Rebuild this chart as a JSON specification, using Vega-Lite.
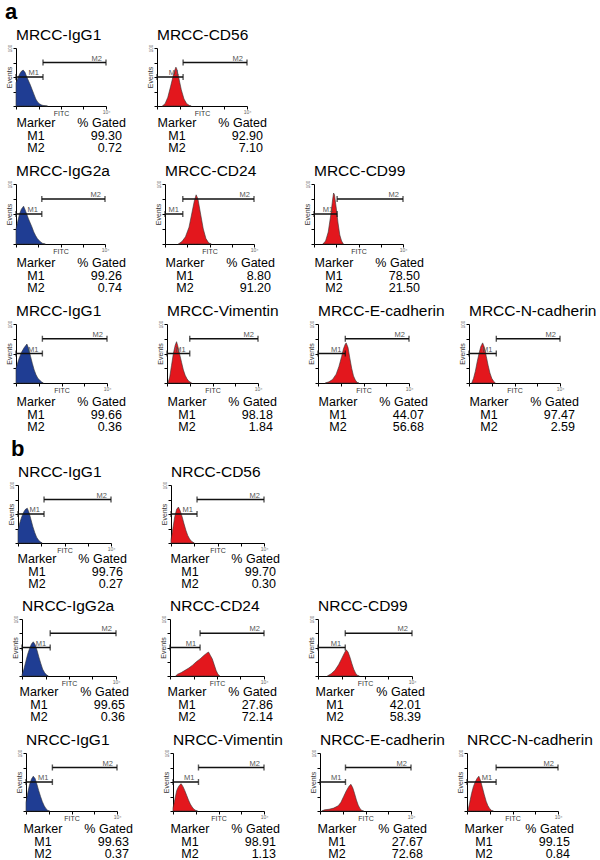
{
"$schema": "https://vega.github.io/schema/vega-lite/v6.json",
"padding": {"left": 5, "top": 0, "right": 0, "bottom": 0},
"background": "white",
"spacing": 0,
"data": {"values": [
{"k":"h","r":1,"p":"MRCC-IgG1","c":"isotype","fitc":1,"events":40},{"k":"h","r":1,"p":"MRCC-IgG1","c":"isotype","fitc":1.202,"events":48},{"k":"h","r":1,"p":"MRCC-IgG1","c":"isotype","fitc":1.445,"events":55},{"k":"h","r":1,"p":"MRCC-IgG1","c":"isotype","fitc":1.738,"events":60},{"k":"h","r":1,"p":"MRCC-IgG1","c":"isotype","fitc":2.089,"events":62},{"k":"h","r":1,"p":"MRCC-IgG1","c":"isotype","fitc":2.512,"events":58},{"k":"h","r":1,"p":"MRCC-IgG1","c":"isotype","fitc":3.02,"events":50},{"k":"h","r":1,"p":"MRCC-IgG1","c":"isotype","fitc":3.631,"events":43},{"k":"h","r":1,"p":"MRCC-IgG1","c":"isotype","fitc":4.365,"events":36},{"k":"h","r":1,"p":"MRCC-IgG1","c":"isotype","fitc":5.248,"events":28},{"k":"h","r":1,"p":"MRCC-IgG1","c":"isotype","fitc":6.31,"events":20},{"k":"h","r":1,"p":"MRCC-IgG1","c":"isotype","fitc":7.586,"events":12},{"k":"h","r":1,"p":"MRCC-IgG1","c":"isotype","fitc":9.12,"events":7},{"k":"h","r":1,"p":"MRCC-IgG1","c":"isotype","fitc":10.96,"events":4},{"k":"h","r":1,"p":"MRCC-IgG1","c":"isotype","fitc":13.18,"events":2},{"k":"h","r":1,"p":"MRCC-IgG1","c":"isotype","fitc":15.85,"events":1},{"k":"h","r":1,"p":"MRCC-IgG1","c":"isotype","fitc":25.12,"events":0},
{"k":"h","r":1,"p":"MRCC-CD56","c":"antibody","fitc":1.738,"events":0},{"k":"h","r":1,"p":"MRCC-CD56","c":"antibody","fitc":2.291,"events":4},{"k":"h","r":1,"p":"MRCC-CD56","c":"antibody","fitc":3.02,"events":15},{"k":"h","r":1,"p":"MRCC-CD56","c":"antibody","fitc":3.981,"events":33},{"k":"h","r":1,"p":"MRCC-CD56","c":"antibody","fitc":5.248,"events":52},{"k":"h","r":1,"p":"MRCC-CD56","c":"antibody","fitc":6.31,"events":63},{"k":"h","r":1,"p":"MRCC-CD56","c":"antibody","fitc":6.918,"events":67},{"k":"h","r":1,"p":"MRCC-CD56","c":"antibody","fitc":7.586,"events":64},{"k":"h","r":1,"p":"MRCC-CD56","c":"antibody","fitc":9.12,"events":50},{"k":"h","r":1,"p":"MRCC-CD56","c":"antibody","fitc":12.02,"events":28},{"k":"h","r":1,"p":"MRCC-CD56","c":"antibody","fitc":15.85,"events":12},{"k":"h","r":1,"p":"MRCC-CD56","c":"antibody","fitc":20.89,"events":4},{"k":"h","r":1,"p":"MRCC-CD56","c":"antibody","fitc":27.54,"events":1},{"k":"h","r":1,"p":"MRCC-CD56","c":"antibody","fitc":33.11,"events":0},
{"k":"h","r":2,"p":"MRCC-IgG2a","c":"isotype","fitc":1,"events":25},{"k":"h","r":2,"p":"MRCC-IgG2a","c":"isotype","fitc":1.202,"events":38},{"k":"h","r":2,"p":"MRCC-IgG2a","c":"isotype","fitc":1.445,"events":50},{"k":"h","r":2,"p":"MRCC-IgG2a","c":"isotype","fitc":1.738,"events":58},{"k":"h","r":2,"p":"MRCC-IgG2a","c":"isotype","fitc":2.188,"events":63},{"k":"h","r":2,"p":"MRCC-IgG2a","c":"isotype","fitc":2.512,"events":58},{"k":"h","r":2,"p":"MRCC-IgG2a","c":"isotype","fitc":3.02,"events":50},{"k":"h","r":2,"p":"MRCC-IgG2a","c":"isotype","fitc":3.631,"events":42},{"k":"h","r":2,"p":"MRCC-IgG2a","c":"isotype","fitc":4.365,"events":35},{"k":"h","r":2,"p":"MRCC-IgG2a","c":"isotype","fitc":5.248,"events":28},{"k":"h","r":2,"p":"MRCC-IgG2a","c":"isotype","fitc":6.31,"events":20},{"k":"h","r":2,"p":"MRCC-IgG2a","c":"isotype","fitc":7.586,"events":14},{"k":"h","r":2,"p":"MRCC-IgG2a","c":"isotype","fitc":9.12,"events":9},{"k":"h","r":2,"p":"MRCC-IgG2a","c":"isotype","fitc":10.96,"events":6},{"k":"h","r":2,"p":"MRCC-IgG2a","c":"isotype","fitc":13.18,"events":3},{"k":"h","r":2,"p":"MRCC-IgG2a","c":"isotype","fitc":15.85,"events":1},{"k":"h","r":2,"p":"MRCC-IgG2a","c":"isotype","fitc":20.89,"events":0},
{"k":"h","r":2,"p":"MRCC-CD24","c":"antibody","fitc":3.981,"events":0},{"k":"h","r":2,"p":"MRCC-CD24","c":"antibody","fitc":5.754,"events":4},{"k":"h","r":2,"p":"MRCC-CD24","c":"antibody","fitc":8.318,"events":12},{"k":"h","r":2,"p":"MRCC-CD24","c":"antibody","fitc":12.02,"events":28},{"k":"h","r":2,"p":"MRCC-CD24","c":"antibody","fitc":15.85,"events":50},{"k":"h","r":2,"p":"MRCC-CD24","c":"antibody","fitc":20.89,"events":72},{"k":"h","r":2,"p":"MRCC-CD24","c":"antibody","fitc":25.12,"events":82},{"k":"h","r":2,"p":"MRCC-CD24","c":"antibody","fitc":30.2,"events":75},{"k":"h","r":2,"p":"MRCC-CD24","c":"antibody","fitc":39.81,"events":50},{"k":"h","r":2,"p":"MRCC-CD24","c":"antibody","fitc":52.48,"events":25},{"k":"h","r":2,"p":"MRCC-CD24","c":"antibody","fitc":69.18,"events":9},{"k":"h","r":2,"p":"MRCC-CD24","c":"antibody","fitc":91.2,"events":2},{"k":"h","r":2,"p":"MRCC-CD24","c":"antibody","fitc":120.2,"events":0},
{"k":"h","r":2,"p":"MRCC-CD99","c":"antibody","fitc":2.512,"events":0},{"k":"h","r":2,"p":"MRCC-CD99","c":"antibody","fitc":3.311,"events":5},{"k":"h","r":2,"p":"MRCC-CD99","c":"antibody","fitc":4.365,"events":20},{"k":"h","r":2,"p":"MRCC-CD99","c":"antibody","fitc":5.754,"events":50},{"k":"h","r":2,"p":"MRCC-CD99","c":"antibody","fitc":6.918,"events":75},{"k":"h","r":2,"p":"MRCC-CD99","c":"antibody","fitc":7.586,"events":85},{"k":"h","r":2,"p":"MRCC-CD99","c":"antibody","fitc":8.318,"events":82},{"k":"h","r":2,"p":"MRCC-CD99","c":"antibody","fitc":10,"events":60},{"k":"h","r":2,"p":"MRCC-CD99","c":"antibody","fitc":12.02,"events":35},{"k":"h","r":2,"p":"MRCC-CD99","c":"antibody","fitc":14.45,"events":15},{"k":"h","r":2,"p":"MRCC-CD99","c":"antibody","fitc":17.38,"events":5},{"k":"h","r":2,"p":"MRCC-CD99","c":"antibody","fitc":20.89,"events":0},
{"k":"h","r":3,"p":"MRCC-IgG1","c":"isotype","fitc":1,"events":25},{"k":"h","r":3,"p":"MRCC-IgG1","c":"isotype","fitc":1.318,"events":40},{"k":"h","r":3,"p":"MRCC-IgG1","c":"isotype","fitc":1.738,"events":52},{"k":"h","r":3,"p":"MRCC-IgG1","c":"isotype","fitc":2.291,"events":60},{"k":"h","r":3,"p":"MRCC-IgG1","c":"isotype","fitc":3.02,"events":66},{"k":"h","r":3,"p":"MRCC-IgG1","c":"isotype","fitc":3.631,"events":58},{"k":"h","r":3,"p":"MRCC-IgG1","c":"isotype","fitc":4.365,"events":45},{"k":"h","r":3,"p":"MRCC-IgG1","c":"isotype","fitc":5.248,"events":33},{"k":"h","r":3,"p":"MRCC-IgG1","c":"isotype","fitc":6.31,"events":22},{"k":"h","r":3,"p":"MRCC-IgG1","c":"isotype","fitc":7.586,"events":14},{"k":"h","r":3,"p":"MRCC-IgG1","c":"isotype","fitc":9.12,"events":8},{"k":"h","r":3,"p":"MRCC-IgG1","c":"isotype","fitc":10.96,"events":5},{"k":"h","r":3,"p":"MRCC-IgG1","c":"isotype","fitc":13.18,"events":2},{"k":"h","r":3,"p":"MRCC-IgG1","c":"isotype","fitc":15.85,"events":0},
{"k":"h","r":3,"p":"MRCC-Vimentin","c":"antibody","fitc":1.096,"events":0},{"k":"h","r":3,"p":"MRCC-Vimentin","c":"antibody","fitc":1.318,"events":10},{"k":"h","r":3,"p":"MRCC-Vimentin","c":"antibody","fitc":1.585,"events":30},{"k":"h","r":3,"p":"MRCC-Vimentin","c":"antibody","fitc":1.905,"events":50},{"k":"h","r":3,"p":"MRCC-Vimentin","c":"antibody","fitc":2.291,"events":64},{"k":"h","r":3,"p":"MRCC-Vimentin","c":"antibody","fitc":2.63,"events":70},{"k":"h","r":3,"p":"MRCC-Vimentin","c":"antibody","fitc":3.02,"events":62},{"k":"h","r":3,"p":"MRCC-Vimentin","c":"antibody","fitc":3.631,"events":48},{"k":"h","r":3,"p":"MRCC-Vimentin","c":"antibody","fitc":4.365,"events":35},{"k":"h","r":3,"p":"MRCC-Vimentin","c":"antibody","fitc":5.248,"events":22},{"k":"h","r":3,"p":"MRCC-Vimentin","c":"antibody","fitc":6.31,"events":13},{"k":"h","r":3,"p":"MRCC-Vimentin","c":"antibody","fitc":7.586,"events":7},{"k":"h","r":3,"p":"MRCC-Vimentin","c":"antibody","fitc":9.12,"events":3},{"k":"h","r":3,"p":"MRCC-Vimentin","c":"antibody","fitc":12.02,"events":0},
{"k":"h","r":3,"p":"MRCC-E-cadherin","c":"antibody","fitc":2.089,"events":0},{"k":"h","r":3,"p":"MRCC-E-cadherin","c":"antibody","fitc":3.02,"events":2},{"k":"h","r":3,"p":"MRCC-E-cadherin","c":"antibody","fitc":4.365,"events":6},{"k":"h","r":3,"p":"MRCC-E-cadherin","c":"antibody","fitc":6.31,"events":15},{"k":"h","r":3,"p":"MRCC-E-cadherin","c":"antibody","fitc":8.318,"events":28},{"k":"h","r":3,"p":"MRCC-E-cadherin","c":"antibody","fitc":10.96,"events":45},{"k":"h","r":3,"p":"MRCC-E-cadherin","c":"antibody","fitc":13.18,"events":58},{"k":"h","r":3,"p":"MRCC-E-cadherin","c":"antibody","fitc":15.85,"events":66},{"k":"h","r":3,"p":"MRCC-E-cadherin","c":"antibody","fitc":17.38,"events":68},{"k":"h","r":3,"p":"MRCC-E-cadherin","c":"antibody","fitc":20.89,"events":60},{"k":"h","r":3,"p":"MRCC-E-cadherin","c":"antibody","fitc":25.12,"events":42},{"k":"h","r":3,"p":"MRCC-E-cadherin","c":"antibody","fitc":30.2,"events":25},{"k":"h","r":3,"p":"MRCC-E-cadherin","c":"antibody","fitc":36.31,"events":12},{"k":"h","r":3,"p":"MRCC-E-cadherin","c":"antibody","fitc":43.65,"events":5},{"k":"h","r":3,"p":"MRCC-E-cadherin","c":"antibody","fitc":52.48,"events":1},{"k":"h","r":3,"p":"MRCC-E-cadherin","c":"antibody","fitc":63.1,"events":0},
{"k":"h","r":3,"p":"MRCC-N-cadherin","c":"antibody","fitc":1.318,"events":0},{"k":"h","r":3,"p":"MRCC-N-cadherin","c":"antibody","fitc":1.585,"events":8},{"k":"h","r":3,"p":"MRCC-N-cadherin","c":"antibody","fitc":1.905,"events":20},{"k":"h","r":3,"p":"MRCC-N-cadherin","c":"antibody","fitc":2.291,"events":36},{"k":"h","r":3,"p":"MRCC-N-cadherin","c":"antibody","fitc":2.754,"events":50},{"k":"h","r":3,"p":"MRCC-N-cadherin","c":"antibody","fitc":3.311,"events":62},{"k":"h","r":3,"p":"MRCC-N-cadherin","c":"antibody","fitc":3.981,"events":68},{"k":"h","r":3,"p":"MRCC-N-cadherin","c":"antibody","fitc":4.786,"events":60},{"k":"h","r":3,"p":"MRCC-N-cadherin","c":"antibody","fitc":5.754,"events":45},{"k":"h","r":3,"p":"MRCC-N-cadherin","c":"antibody","fitc":6.918,"events":30},{"k":"h","r":3,"p":"MRCC-N-cadherin","c":"antibody","fitc":8.318,"events":17},{"k":"h","r":3,"p":"MRCC-N-cadherin","c":"antibody","fitc":10,"events":8},{"k":"h","r":3,"p":"MRCC-N-cadherin","c":"antibody","fitc":12.02,"events":3},{"k":"h","r":3,"p":"MRCC-N-cadherin","c":"antibody","fitc":14.45,"events":0},
{"k":"h","r":4,"p":"NRCC-IgG1","c":"isotype","fitc":1,"events":22},{"k":"h","r":4,"p":"NRCC-IgG1","c":"isotype","fitc":1.202,"events":35},{"k":"h","r":4,"p":"NRCC-IgG1","c":"isotype","fitc":1.445,"events":45},{"k":"h","r":4,"p":"NRCC-IgG1","c":"isotype","fitc":1.738,"events":53},{"k":"h","r":4,"p":"NRCC-IgG1","c":"isotype","fitc":2.089,"events":58},{"k":"h","r":4,"p":"NRCC-IgG1","c":"isotype","fitc":2.512,"events":60},{"k":"h","r":4,"p":"NRCC-IgG1","c":"isotype","fitc":3.02,"events":52},{"k":"h","r":4,"p":"NRCC-IgG1","c":"isotype","fitc":3.631,"events":40},{"k":"h","r":4,"p":"NRCC-IgG1","c":"isotype","fitc":4.365,"events":28},{"k":"h","r":4,"p":"NRCC-IgG1","c":"isotype","fitc":5.248,"events":18},{"k":"h","r":4,"p":"NRCC-IgG1","c":"isotype","fitc":6.31,"events":10},{"k":"h","r":4,"p":"NRCC-IgG1","c":"isotype","fitc":7.586,"events":5},{"k":"h","r":4,"p":"NRCC-IgG1","c":"isotype","fitc":9.12,"events":2},{"k":"h","r":4,"p":"NRCC-IgG1","c":"isotype","fitc":10.96,"events":0},
{"k":"h","r":4,"p":"NRCC-CD56","c":"antibody","fitc":1,"events":5},{"k":"h","r":4,"p":"NRCC-CD56","c":"antibody","fitc":1.202,"events":25},{"k":"h","r":4,"p":"NRCC-CD56","c":"antibody","fitc":1.445,"events":45},{"k":"h","r":4,"p":"NRCC-CD56","c":"antibody","fitc":1.738,"events":58},{"k":"h","r":4,"p":"NRCC-CD56","c":"antibody","fitc":2.089,"events":62},{"k":"h","r":4,"p":"NRCC-CD56","c":"antibody","fitc":2.512,"events":55},{"k":"h","r":4,"p":"NRCC-CD56","c":"antibody","fitc":3.02,"events":45},{"k":"h","r":4,"p":"NRCC-CD56","c":"antibody","fitc":3.631,"events":33},{"k":"h","r":4,"p":"NRCC-CD56","c":"antibody","fitc":4.365,"events":22},{"k":"h","r":4,"p":"NRCC-CD56","c":"antibody","fitc":5.248,"events":13},{"k":"h","r":4,"p":"NRCC-CD56","c":"antibody","fitc":6.31,"events":7},{"k":"h","r":4,"p":"NRCC-CD56","c":"antibody","fitc":7.586,"events":3},{"k":"h","r":4,"p":"NRCC-CD56","c":"antibody","fitc":10,"events":0},
{"k":"h","r":5,"p":"NRCC-IgG2a","c":"isotype","fitc":1,"events":2},{"k":"h","r":5,"p":"NRCC-IgG2a","c":"isotype","fitc":1.202,"events":12},{"k":"h","r":5,"p":"NRCC-IgG2a","c":"isotype","fitc":1.445,"events":25},{"k":"h","r":5,"p":"NRCC-IgG2a","c":"isotype","fitc":1.738,"events":38},{"k":"h","r":5,"p":"NRCC-IgG2a","c":"isotype","fitc":2.089,"events":48},{"k":"h","r":5,"p":"NRCC-IgG2a","c":"isotype","fitc":2.512,"events":56},{"k":"h","r":5,"p":"NRCC-IgG2a","c":"isotype","fitc":3.02,"events":60},{"k":"h","r":5,"p":"NRCC-IgG2a","c":"isotype","fitc":3.631,"events":55},{"k":"h","r":5,"p":"NRCC-IgG2a","c":"isotype","fitc":4.365,"events":45},{"k":"h","r":5,"p":"NRCC-IgG2a","c":"isotype","fitc":5.248,"events":33},{"k":"h","r":5,"p":"NRCC-IgG2a","c":"isotype","fitc":6.31,"events":22},{"k":"h","r":5,"p":"NRCC-IgG2a","c":"isotype","fitc":7.586,"events":12},{"k":"h","r":5,"p":"NRCC-IgG2a","c":"isotype","fitc":9.12,"events":6},{"k":"h","r":5,"p":"NRCC-IgG2a","c":"isotype","fitc":10.96,"events":2},{"k":"h","r":5,"p":"NRCC-IgG2a","c":"isotype","fitc":13.18,"events":0},
{"k":"h","r":5,"p":"NRCC-CD24","c":"antibody","fitc":1.738,"events":0},{"k":"h","r":5,"p":"NRCC-CD24","c":"antibody","fitc":2.089,"events":3},{"k":"h","r":5,"p":"NRCC-CD24","c":"antibody","fitc":3.02,"events":6},{"k":"h","r":5,"p":"NRCC-CD24","c":"antibody","fitc":4.365,"events":10},{"k":"h","r":5,"p":"NRCC-CD24","c":"antibody","fitc":6.31,"events":14},{"k":"h","r":5,"p":"NRCC-CD24","c":"antibody","fitc":9.12,"events":19},{"k":"h","r":5,"p":"NRCC-CD24","c":"antibody","fitc":13.18,"events":25},{"k":"h","r":5,"p":"NRCC-CD24","c":"antibody","fitc":19.05,"events":30},{"k":"h","r":5,"p":"NRCC-CD24","c":"antibody","fitc":27.54,"events":36},{"k":"h","r":5,"p":"NRCC-CD24","c":"antibody","fitc":36.31,"events":40},{"k":"h","r":5,"p":"NRCC-CD24","c":"antibody","fitc":43.65,"events":42},{"k":"h","r":5,"p":"NRCC-CD24","c":"antibody","fitc":52.48,"events":36},{"k":"h","r":5,"p":"NRCC-CD24","c":"antibody","fitc":63.1,"events":30},{"k":"h","r":5,"p":"NRCC-CD24","c":"antibody","fitc":75.86,"events":20},{"k":"h","r":5,"p":"NRCC-CD24","c":"antibody","fitc":91.2,"events":10},{"k":"h","r":5,"p":"NRCC-CD24","c":"antibody","fitc":109.6,"events":3},{"k":"h","r":5,"p":"NRCC-CD24","c":"antibody","fitc":131.8,"events":0},
{"k":"h","r":5,"p":"NRCC-CD99","c":"antibody","fitc":2.512,"events":0},{"k":"h","r":5,"p":"NRCC-CD99","c":"antibody","fitc":3.631,"events":4},{"k":"h","r":5,"p":"NRCC-CD99","c":"antibody","fitc":5.248,"events":10},{"k":"h","r":5,"p":"NRCC-CD99","c":"antibody","fitc":7.586,"events":20},{"k":"h","r":5,"p":"NRCC-CD99","c":"antibody","fitc":10,"events":30},{"k":"h","r":5,"p":"NRCC-CD99","c":"antibody","fitc":13.18,"events":40},{"k":"h","r":5,"p":"NRCC-CD99","c":"antibody","fitc":15.85,"events":46},{"k":"h","r":5,"p":"NRCC-CD99","c":"antibody","fitc":19.05,"events":42},{"k":"h","r":5,"p":"NRCC-CD99","c":"antibody","fitc":22.91,"events":33},{"k":"h","r":5,"p":"NRCC-CD99","c":"antibody","fitc":27.54,"events":22},{"k":"h","r":5,"p":"NRCC-CD99","c":"antibody","fitc":33.11,"events":12},{"k":"h","r":5,"p":"NRCC-CD99","c":"antibody","fitc":39.81,"events":5},{"k":"h","r":5,"p":"NRCC-CD99","c":"antibody","fitc":47.86,"events":1},{"k":"h","r":5,"p":"NRCC-CD99","c":"antibody","fitc":57.54,"events":0},
{"k":"h","r":6,"p":"NRCC-IgG1","c":"isotype","fitc":1,"events":15},{"k":"h","r":6,"p":"NRCC-IgG1","c":"isotype","fitc":1.202,"events":32},{"k":"h","r":6,"p":"NRCC-IgG1","c":"isotype","fitc":1.445,"events":46},{"k":"h","r":6,"p":"NRCC-IgG1","c":"isotype","fitc":1.738,"events":55},{"k":"h","r":6,"p":"NRCC-IgG1","c":"isotype","fitc":2.089,"events":60},{"k":"h","r":6,"p":"NRCC-IgG1","c":"isotype","fitc":2.512,"events":56},{"k":"h","r":6,"p":"NRCC-IgG1","c":"isotype","fitc":3.02,"events":46},{"k":"h","r":6,"p":"NRCC-IgG1","c":"isotype","fitc":3.631,"events":35},{"k":"h","r":6,"p":"NRCC-IgG1","c":"isotype","fitc":4.365,"events":25},{"k":"h","r":6,"p":"NRCC-IgG1","c":"isotype","fitc":5.248,"events":16},{"k":"h","r":6,"p":"NRCC-IgG1","c":"isotype","fitc":6.31,"events":9},{"k":"h","r":6,"p":"NRCC-IgG1","c":"isotype","fitc":7.586,"events":4},{"k":"h","r":6,"p":"NRCC-IgG1","c":"isotype","fitc":9.12,"events":1},{"k":"h","r":6,"p":"NRCC-IgG1","c":"isotype","fitc":10.96,"events":0},
{"k":"h","r":6,"p":"NRCC-Vimentin","c":"antibody","fitc":1,"events":5},{"k":"h","r":6,"p":"NRCC-Vimentin","c":"antibody","fitc":1.202,"events":20},{"k":"h","r":6,"p":"NRCC-Vimentin","c":"antibody","fitc":1.445,"events":35},{"k":"h","r":6,"p":"NRCC-Vimentin","c":"antibody","fitc":1.738,"events":42},{"k":"h","r":6,"p":"NRCC-Vimentin","c":"antibody","fitc":2.089,"events":46},{"k":"h","r":6,"p":"NRCC-Vimentin","c":"antibody","fitc":2.291,"events":47},{"k":"h","r":6,"p":"NRCC-Vimentin","c":"antibody","fitc":2.754,"events":42},{"k":"h","r":6,"p":"NRCC-Vimentin","c":"antibody","fitc":3.311,"events":35},{"k":"h","r":6,"p":"NRCC-Vimentin","c":"antibody","fitc":3.981,"events":27},{"k":"h","r":6,"p":"NRCC-Vimentin","c":"antibody","fitc":4.786,"events":19},{"k":"h","r":6,"p":"NRCC-Vimentin","c":"antibody","fitc":5.754,"events":12},{"k":"h","r":6,"p":"NRCC-Vimentin","c":"antibody","fitc":6.918,"events":7},{"k":"h","r":6,"p":"NRCC-Vimentin","c":"antibody","fitc":8.318,"events":3},{"k":"h","r":6,"p":"NRCC-Vimentin","c":"antibody","fitc":10,"events":1},{"k":"h","r":6,"p":"NRCC-Vimentin","c":"antibody","fitc":12.02,"events":0},
{"k":"h","r":6,"p":"NRCC-E-cadherin","c":"antibody","fitc":1.202,"events":0},{"k":"h","r":6,"p":"NRCC-E-cadherin","c":"antibody","fitc":1.585,"events":2},{"k":"h","r":6,"p":"NRCC-E-cadherin","c":"antibody","fitc":2.512,"events":3},{"k":"h","r":6,"p":"NRCC-E-cadherin","c":"antibody","fitc":3.981,"events":5},{"k":"h","r":6,"p":"NRCC-E-cadherin","c":"antibody","fitc":6.31,"events":9},{"k":"h","r":6,"p":"NRCC-E-cadherin","c":"antibody","fitc":8.318,"events":15},{"k":"h","r":6,"p":"NRCC-E-cadherin","c":"antibody","fitc":10.96,"events":25},{"k":"h","r":6,"p":"NRCC-E-cadherin","c":"antibody","fitc":14.45,"events":35},{"k":"h","r":6,"p":"NRCC-E-cadherin","c":"antibody","fitc":19.05,"events":43},{"k":"h","r":6,"p":"NRCC-E-cadherin","c":"antibody","fitc":22.91,"events":46},{"k":"h","r":6,"p":"NRCC-E-cadherin","c":"antibody","fitc":27.54,"events":40},{"k":"h","r":6,"p":"NRCC-E-cadherin","c":"antibody","fitc":33.11,"events":30},{"k":"h","r":6,"p":"NRCC-E-cadherin","c":"antibody","fitc":39.81,"events":19},{"k":"h","r":6,"p":"NRCC-E-cadherin","c":"antibody","fitc":47.86,"events":10},{"k":"h","r":6,"p":"NRCC-E-cadherin","c":"antibody","fitc":57.54,"events":4},{"k":"h","r":6,"p":"NRCC-E-cadherin","c":"antibody","fitc":69.18,"events":1},{"k":"h","r":6,"p":"NRCC-E-cadherin","c":"antibody","fitc":83.18,"events":0},
{"k":"h","r":6,"p":"NRCC-N-cadherin","c":"antibody","fitc":1.096,"events":0},{"k":"h","r":6,"p":"NRCC-N-cadherin","c":"antibody","fitc":1.318,"events":15},{"k":"h","r":6,"p":"NRCC-N-cadherin","c":"antibody","fitc":1.585,"events":30},{"k":"h","r":6,"p":"NRCC-N-cadherin","c":"antibody","fitc":1.905,"events":42},{"k":"h","r":6,"p":"NRCC-N-cadherin","c":"antibody","fitc":2.291,"events":50},{"k":"h","r":6,"p":"NRCC-N-cadherin","c":"antibody","fitc":2.754,"events":56},{"k":"h","r":6,"p":"NRCC-N-cadherin","c":"antibody","fitc":3.311,"events":60},{"k":"h","r":6,"p":"NRCC-N-cadherin","c":"antibody","fitc":3.981,"events":52},{"k":"h","r":6,"p":"NRCC-N-cadherin","c":"antibody","fitc":4.786,"events":40},{"k":"h","r":6,"p":"NRCC-N-cadherin","c":"antibody","fitc":5.754,"events":28},{"k":"h","r":6,"p":"NRCC-N-cadherin","c":"antibody","fitc":6.918,"events":17},{"k":"h","r":6,"p":"NRCC-N-cadherin","c":"antibody","fitc":8.318,"events":9},{"k":"h","r":6,"p":"NRCC-N-cadherin","c":"antibody","fitc":10,"events":4},{"k":"h","r":6,"p":"NRCC-N-cadherin","c":"antibody","fitc":12.02,"events":1},{"k":"h","r":6,"p":"NRCC-N-cadherin","c":"antibody","fitc":14.45,"events":0},
{"k":"e","r":1,"p":"MRCC-IgG1","marker":"M1","side":"L","fitc":1,"events":50},{"k":"e","r":1,"p":"MRCC-IgG1","marker":"M1","side":"R","fitc":15.85,"events":50},{"k":"e","r":1,"p":"MRCC-IgG1","marker":"M2","side":"L","fitc":15.85,"events":75},{"k":"e","r":1,"p":"MRCC-IgG1","marker":"M2","side":"R","fitc":10000,"events":75},
{"k":"e","r":1,"p":"MRCC-CD56","marker":"M1","side":"L","fitc":1,"events":50},{"k":"e","r":1,"p":"MRCC-CD56","marker":"M1","side":"R","fitc":14.45,"events":50},{"k":"e","r":1,"p":"MRCC-CD56","marker":"M2","side":"L","fitc":14.45,"events":75},{"k":"e","r":1,"p":"MRCC-CD56","marker":"M2","side":"R","fitc":10000,"events":75},
{"k":"e","r":2,"p":"MRCC-IgG2a","marker":"M1","side":"L","fitc":1,"events":50},{"k":"e","r":2,"p":"MRCC-IgG2a","marker":"M1","side":"R","fitc":14.45,"events":50},{"k":"e","r":2,"p":"MRCC-IgG2a","marker":"M2","side":"L","fitc":14.45,"events":75},{"k":"e","r":2,"p":"MRCC-IgG2a","marker":"M2","side":"R","fitc":10000,"events":75},
{"k":"e","r":2,"p":"MRCC-CD24","marker":"M1","side":"L","fitc":1,"events":50},{"k":"e","r":2,"p":"MRCC-CD24","marker":"M1","side":"R","fitc":6.31,"events":50},{"k":"e","r":2,"p":"MRCC-CD24","marker":"M2","side":"L","fitc":6.31,"events":75},{"k":"e","r":2,"p":"MRCC-CD24","marker":"M2","side":"R","fitc":10000,"events":75},
{"k":"e","r":2,"p":"MRCC-CD99","marker":"M1","side":"L","fitc":1,"events":50},{"k":"e","r":2,"p":"MRCC-CD99","marker":"M1","side":"R","fitc":10.96,"events":50},{"k":"e","r":2,"p":"MRCC-CD99","marker":"M2","side":"L","fitc":10.96,"events":75},{"k":"e","r":2,"p":"MRCC-CD99","marker":"M2","side":"R","fitc":10000,"events":75},
{"k":"e","r":3,"p":"MRCC-IgG1","marker":"M1","side":"L","fitc":1,"events":50},{"k":"e","r":3,"p":"MRCC-IgG1","marker":"M1","side":"R","fitc":14.45,"events":50},{"k":"e","r":3,"p":"MRCC-IgG1","marker":"M2","side":"L","fitc":14.45,"events":75},{"k":"e","r":3,"p":"MRCC-IgG1","marker":"M2","side":"R","fitc":10000,"events":75},
{"k":"e","r":3,"p":"MRCC-Vimentin","marker":"M1","side":"L","fitc":1,"events":50},{"k":"e","r":3,"p":"MRCC-Vimentin","marker":"M1","side":"R","fitc":10,"events":50},{"k":"e","r":3,"p":"MRCC-Vimentin","marker":"M2","side":"L","fitc":10,"events":75},{"k":"e","r":3,"p":"MRCC-Vimentin","marker":"M2","side":"R","fitc":10000,"events":75},
{"k":"e","r":3,"p":"MRCC-E-cadherin","marker":"M1","side":"L","fitc":1,"events":50},{"k":"e","r":3,"p":"MRCC-E-cadherin","marker":"M1","side":"R","fitc":15.85,"events":50},{"k":"e","r":3,"p":"MRCC-E-cadherin","marker":"M2","side":"L","fitc":15.85,"events":75},{"k":"e","r":3,"p":"MRCC-E-cadherin","marker":"M2","side":"R","fitc":10000,"events":75},
{"k":"e","r":3,"p":"MRCC-N-cadherin","marker":"M1","side":"L","fitc":1,"events":50},{"k":"e","r":3,"p":"MRCC-N-cadherin","marker":"M1","side":"R","fitc":15.85,"events":50},{"k":"e","r":3,"p":"MRCC-N-cadherin","marker":"M2","side":"L","fitc":15.85,"events":75},{"k":"e","r":3,"p":"MRCC-N-cadherin","marker":"M2","side":"R","fitc":10000,"events":75},
{"k":"e","r":4,"p":"NRCC-IgG1","marker":"M1","side":"L","fitc":1,"events":50},{"k":"e","r":4,"p":"NRCC-IgG1","marker":"M1","side":"R","fitc":13.18,"events":50},{"k":"e","r":4,"p":"NRCC-IgG1","marker":"M2","side":"L","fitc":13.18,"events":75},{"k":"e","r":4,"p":"NRCC-IgG1","marker":"M2","side":"R","fitc":10000,"events":75},
{"k":"e","r":4,"p":"NRCC-CD56","marker":"M1","side":"L","fitc":1,"events":50},{"k":"e","r":4,"p":"NRCC-CD56","marker":"M1","side":"R","fitc":13.18,"events":50},{"k":"e","r":4,"p":"NRCC-CD56","marker":"M2","side":"L","fitc":13.18,"events":75},{"k":"e","r":4,"p":"NRCC-CD56","marker":"M2","side":"R","fitc":10000,"events":75},
{"k":"e","r":5,"p":"NRCC-IgG2a","marker":"M1","side":"L","fitc":1,"events":50},{"k":"e","r":5,"p":"NRCC-IgG2a","marker":"M1","side":"R","fitc":15.85,"events":50},{"k":"e","r":5,"p":"NRCC-IgG2a","marker":"M2","side":"L","fitc":15.85,"events":75},{"k":"e","r":5,"p":"NRCC-IgG2a","marker":"M2","side":"R","fitc":10000,"events":75},
{"k":"e","r":5,"p":"NRCC-CD24","marker":"M1","side":"L","fitc":1,"events":50},{"k":"e","r":5,"p":"NRCC-CD24","marker":"M1","side":"R","fitc":19.05,"events":50},{"k":"e","r":5,"p":"NRCC-CD24","marker":"M2","side":"L","fitc":19.05,"events":75},{"k":"e","r":5,"p":"NRCC-CD24","marker":"M2","side":"R","fitc":10000,"events":75},
{"k":"e","r":5,"p":"NRCC-CD99","marker":"M1","side":"L","fitc":1,"events":50},{"k":"e","r":5,"p":"NRCC-CD99","marker":"M1","side":"R","fitc":14.45,"events":50},{"k":"e","r":5,"p":"NRCC-CD99","marker":"M2","side":"L","fitc":14.45,"events":75},{"k":"e","r":5,"p":"NRCC-CD99","marker":"M2","side":"R","fitc":10000,"events":75},
{"k":"e","r":6,"p":"NRCC-IgG1","marker":"M1","side":"L","fitc":1,"events":50},{"k":"e","r":6,"p":"NRCC-IgG1","marker":"M1","side":"R","fitc":14.45,"events":50},{"k":"e","r":6,"p":"NRCC-IgG1","marker":"M2","side":"L","fitc":14.45,"events":75},{"k":"e","r":6,"p":"NRCC-IgG1","marker":"M2","side":"R","fitc":10000,"events":75},
{"k":"e","r":6,"p":"NRCC-Vimentin","marker":"M1","side":"L","fitc":1,"events":50},{"k":"e","r":6,"p":"NRCC-Vimentin","marker":"M1","side":"R","fitc":13.18,"events":50},{"k":"e","r":6,"p":"NRCC-Vimentin","marker":"M2","side":"L","fitc":13.18,"events":75},{"k":"e","r":6,"p":"NRCC-Vimentin","marker":"M2","side":"R","fitc":10000,"events":75},
{"k":"e","r":6,"p":"NRCC-E-cadherin","marker":"M1","side":"L","fitc":1,"events":50},{"k":"e","r":6,"p":"NRCC-E-cadherin","marker":"M1","side":"R","fitc":13.18,"events":50},{"k":"e","r":6,"p":"NRCC-E-cadherin","marker":"M2","side":"L","fitc":13.18,"events":75},{"k":"e","r":6,"p":"NRCC-E-cadherin","marker":"M2","side":"R","fitc":10000,"events":75},
{"k":"e","r":6,"p":"NRCC-N-cadherin","marker":"M1","side":"L","fitc":1,"events":50},{"k":"e","r":6,"p":"NRCC-N-cadherin","marker":"M1","side":"R","fitc":19.05,"events":50},{"k":"e","r":6,"p":"NRCC-N-cadherin","marker":"M2","side":"L","fitc":19.05,"events":75},{"k":"e","r":6,"p":"NRCC-N-cadherin","marker":"M2","side":"R","fitc":10000,"events":75},
{"k":"t","r":1,"p":"MRCC-IgG1","line":"hdr","col":"Marker","text":"Marker"},{"k":"t","r":1,"p":"MRCC-IgG1","line":"hdr","col":"% Gated","text":"% Gated"},{"k":"t","r":1,"p":"MRCC-IgG1","line":"M1","col":"Marker","text":"M1"},{"k":"t","r":1,"p":"MRCC-IgG1","line":"M1","col":"% Gated","text":"99.30"},{"k":"t","r":1,"p":"MRCC-IgG1","line":"M2","col":"Marker","text":"M2"},{"k":"t","r":1,"p":"MRCC-IgG1","line":"M2","col":"% Gated","text":"0.72"},
{"k":"t","r":1,"p":"MRCC-CD56","line":"hdr","col":"Marker","text":"Marker"},{"k":"t","r":1,"p":"MRCC-CD56","line":"hdr","col":"% Gated","text":"% Gated"},{"k":"t","r":1,"p":"MRCC-CD56","line":"M1","col":"Marker","text":"M1"},{"k":"t","r":1,"p":"MRCC-CD56","line":"M1","col":"% Gated","text":"92.90"},{"k":"t","r":1,"p":"MRCC-CD56","line":"M2","col":"Marker","text":"M2"},{"k":"t","r":1,"p":"MRCC-CD56","line":"M2","col":"% Gated","text":"7.10"},
{"k":"t","r":2,"p":"MRCC-IgG2a","line":"hdr","col":"Marker","text":"Marker"},{"k":"t","r":2,"p":"MRCC-IgG2a","line":"hdr","col":"% Gated","text":"% Gated"},{"k":"t","r":2,"p":"MRCC-IgG2a","line":"M1","col":"Marker","text":"M1"},{"k":"t","r":2,"p":"MRCC-IgG2a","line":"M1","col":"% Gated","text":"99.26"},{"k":"t","r":2,"p":"MRCC-IgG2a","line":"M2","col":"Marker","text":"M2"},{"k":"t","r":2,"p":"MRCC-IgG2a","line":"M2","col":"% Gated","text":"0.74"},
{"k":"t","r":2,"p":"MRCC-CD24","line":"hdr","col":"Marker","text":"Marker"},{"k":"t","r":2,"p":"MRCC-CD24","line":"hdr","col":"% Gated","text":"% Gated"},{"k":"t","r":2,"p":"MRCC-CD24","line":"M1","col":"Marker","text":"M1"},{"k":"t","r":2,"p":"MRCC-CD24","line":"M1","col":"% Gated","text":"8.80"},{"k":"t","r":2,"p":"MRCC-CD24","line":"M2","col":"Marker","text":"M2"},{"k":"t","r":2,"p":"MRCC-CD24","line":"M2","col":"% Gated","text":"91.20"},
{"k":"t","r":2,"p":"MRCC-CD99","line":"hdr","col":"Marker","text":"Marker"},{"k":"t","r":2,"p":"MRCC-CD99","line":"hdr","col":"% Gated","text":"% Gated"},{"k":"t","r":2,"p":"MRCC-CD99","line":"M1","col":"Marker","text":"M1"},{"k":"t","r":2,"p":"MRCC-CD99","line":"M1","col":"% Gated","text":"78.50"},{"k":"t","r":2,"p":"MRCC-CD99","line":"M2","col":"Marker","text":"M2"},{"k":"t","r":2,"p":"MRCC-CD99","line":"M2","col":"% Gated","text":"21.50"},
{"k":"t","r":3,"p":"MRCC-IgG1","line":"hdr","col":"Marker","text":"Marker"},{"k":"t","r":3,"p":"MRCC-IgG1","line":"hdr","col":"% Gated","text":"% Gated"},{"k":"t","r":3,"p":"MRCC-IgG1","line":"M1","col":"Marker","text":"M1"},{"k":"t","r":3,"p":"MRCC-IgG1","line":"M1","col":"% Gated","text":"99.66"},{"k":"t","r":3,"p":"MRCC-IgG1","line":"M2","col":"Marker","text":"M2"},{"k":"t","r":3,"p":"MRCC-IgG1","line":"M2","col":"% Gated","text":"0.36"},
{"k":"t","r":3,"p":"MRCC-Vimentin","line":"hdr","col":"Marker","text":"Marker"},{"k":"t","r":3,"p":"MRCC-Vimentin","line":"hdr","col":"% Gated","text":"% Gated"},{"k":"t","r":3,"p":"MRCC-Vimentin","line":"M1","col":"Marker","text":"M1"},{"k":"t","r":3,"p":"MRCC-Vimentin","line":"M1","col":"% Gated","text":"98.18"},{"k":"t","r":3,"p":"MRCC-Vimentin","line":"M2","col":"Marker","text":"M2"},{"k":"t","r":3,"p":"MRCC-Vimentin","line":"M2","col":"% Gated","text":"1.84"},
{"k":"t","r":3,"p":"MRCC-E-cadherin","line":"hdr","col":"Marker","text":"Marker"},{"k":"t","r":3,"p":"MRCC-E-cadherin","line":"hdr","col":"% Gated","text":"% Gated"},{"k":"t","r":3,"p":"MRCC-E-cadherin","line":"M1","col":"Marker","text":"M1"},{"k":"t","r":3,"p":"MRCC-E-cadherin","line":"M1","col":"% Gated","text":"44.07"},{"k":"t","r":3,"p":"MRCC-E-cadherin","line":"M2","col":"Marker","text":"M2"},{"k":"t","r":3,"p":"MRCC-E-cadherin","line":"M2","col":"% Gated","text":"56.68"},
{"k":"t","r":3,"p":"MRCC-N-cadherin","line":"hdr","col":"Marker","text":"Marker"},{"k":"t","r":3,"p":"MRCC-N-cadherin","line":"hdr","col":"% Gated","text":"% Gated"},{"k":"t","r":3,"p":"MRCC-N-cadherin","line":"M1","col":"Marker","text":"M1"},{"k":"t","r":3,"p":"MRCC-N-cadherin","line":"M1","col":"% Gated","text":"97.47"},{"k":"t","r":3,"p":"MRCC-N-cadherin","line":"M2","col":"Marker","text":"M2"},{"k":"t","r":3,"p":"MRCC-N-cadherin","line":"M2","col":"% Gated","text":"2.59"},
{"k":"t","r":4,"p":"NRCC-IgG1","line":"hdr","col":"Marker","text":"Marker"},{"k":"t","r":4,"p":"NRCC-IgG1","line":"hdr","col":"% Gated","text":"% Gated"},{"k":"t","r":4,"p":"NRCC-IgG1","line":"M1","col":"Marker","text":"M1"},{"k":"t","r":4,"p":"NRCC-IgG1","line":"M1","col":"% Gated","text":"99.76"},{"k":"t","r":4,"p":"NRCC-IgG1","line":"M2","col":"Marker","text":"M2"},{"k":"t","r":4,"p":"NRCC-IgG1","line":"M2","col":"% Gated","text":"0.27"},
{"k":"t","r":4,"p":"NRCC-CD56","line":"hdr","col":"Marker","text":"Marker"},{"k":"t","r":4,"p":"NRCC-CD56","line":"hdr","col":"% Gated","text":"% Gated"},{"k":"t","r":4,"p":"NRCC-CD56","line":"M1","col":"Marker","text":"M1"},{"k":"t","r":4,"p":"NRCC-CD56","line":"M1","col":"% Gated","text":"99.70"},{"k":"t","r":4,"p":"NRCC-CD56","line":"M2","col":"Marker","text":"M2"},{"k":"t","r":4,"p":"NRCC-CD56","line":"M2","col":"% Gated","text":"0.30"},
{"k":"t","r":5,"p":"NRCC-IgG2a","line":"hdr","col":"Marker","text":"Marker"},{"k":"t","r":5,"p":"NRCC-IgG2a","line":"hdr","col":"% Gated","text":"% Gated"},{"k":"t","r":5,"p":"NRCC-IgG2a","line":"M1","col":"Marker","text":"M1"},{"k":"t","r":5,"p":"NRCC-IgG2a","line":"M1","col":"% Gated","text":"99.65"},{"k":"t","r":5,"p":"NRCC-IgG2a","line":"M2","col":"Marker","text":"M2"},{"k":"t","r":5,"p":"NRCC-IgG2a","line":"M2","col":"% Gated","text":"0.36"},
{"k":"t","r":5,"p":"NRCC-CD24","line":"hdr","col":"Marker","text":"Marker"},{"k":"t","r":5,"p":"NRCC-CD24","line":"hdr","col":"% Gated","text":"% Gated"},{"k":"t","r":5,"p":"NRCC-CD24","line":"M1","col":"Marker","text":"M1"},{"k":"t","r":5,"p":"NRCC-CD24","line":"M1","col":"% Gated","text":"27.86"},{"k":"t","r":5,"p":"NRCC-CD24","line":"M2","col":"Marker","text":"M2"},{"k":"t","r":5,"p":"NRCC-CD24","line":"M2","col":"% Gated","text":"72.14"},
{"k":"t","r":5,"p":"NRCC-CD99","line":"hdr","col":"Marker","text":"Marker"},{"k":"t","r":5,"p":"NRCC-CD99","line":"hdr","col":"% Gated","text":"% Gated"},{"k":"t","r":5,"p":"NRCC-CD99","line":"M1","col":"Marker","text":"M1"},{"k":"t","r":5,"p":"NRCC-CD99","line":"M1","col":"% Gated","text":"42.01"},{"k":"t","r":5,"p":"NRCC-CD99","line":"M2","col":"Marker","text":"M2"},{"k":"t","r":5,"p":"NRCC-CD99","line":"M2","col":"% Gated","text":"58.39"},
{"k":"t","r":6,"p":"NRCC-IgG1","line":"hdr","col":"Marker","text":"Marker"},{"k":"t","r":6,"p":"NRCC-IgG1","line":"hdr","col":"% Gated","text":"% Gated"},{"k":"t","r":6,"p":"NRCC-IgG1","line":"M1","col":"Marker","text":"M1"},{"k":"t","r":6,"p":"NRCC-IgG1","line":"M1","col":"% Gated","text":"99.63"},{"k":"t","r":6,"p":"NRCC-IgG1","line":"M2","col":"Marker","text":"M2"},{"k":"t","r":6,"p":"NRCC-IgG1","line":"M2","col":"% Gated","text":"0.37"},
{"k":"t","r":6,"p":"NRCC-Vimentin","line":"hdr","col":"Marker","text":"Marker"},{"k":"t","r":6,"p":"NRCC-Vimentin","line":"hdr","col":"% Gated","text":"% Gated"},{"k":"t","r":6,"p":"NRCC-Vimentin","line":"M1","col":"Marker","text":"M1"},{"k":"t","r":6,"p":"NRCC-Vimentin","line":"M1","col":"% Gated","text":"98.91"},{"k":"t","r":6,"p":"NRCC-Vimentin","line":"M2","col":"Marker","text":"M2"},{"k":"t","r":6,"p":"NRCC-Vimentin","line":"M2","col":"% Gated","text":"1.13"},
{"k":"t","r":6,"p":"NRCC-E-cadherin","line":"hdr","col":"Marker","text":"Marker"},{"k":"t","r":6,"p":"NRCC-E-cadherin","line":"hdr","col":"% Gated","text":"% Gated"},{"k":"t","r":6,"p":"NRCC-E-cadherin","line":"M1","col":"Marker","text":"M1"},{"k":"t","r":6,"p":"NRCC-E-cadherin","line":"M1","col":"% Gated","text":"27.67"},{"k":"t","r":6,"p":"NRCC-E-cadherin","line":"M2","col":"Marker","text":"M2"},{"k":"t","r":6,"p":"NRCC-E-cadherin","line":"M2","col":"% Gated","text":"72.68"},
{"k":"t","r":6,"p":"NRCC-N-cadherin","line":"hdr","col":"Marker","text":"Marker"},{"k":"t","r":6,"p":"NRCC-N-cadherin","line":"hdr","col":"% Gated","text":"% Gated"},{"k":"t","r":6,"p":"NRCC-N-cadherin","line":"M1","col":"Marker","text":"M1"},{"k":"t","r":6,"p":"NRCC-N-cadherin","line":"M1","col":"% Gated","text":"99.15"},{"k":"t","r":6,"p":"NRCC-N-cadherin","line":"M2","col":"Marker","text":"M2"},{"k":"t","r":6,"p":"NRCC-N-cadherin","line":"M2","col":"% Gated","text":"0.84"}
]},
"vconcat": [
{"title": {"text": "a"}, "transform": [{"filter": "datum.r == 1 && datum.k != 't'"}],
 "facet": {"column": {"field": "p", "type": "nominal", "title": null, "sort": ["MRCC-IgG1","MRCC-CD56"]}},
 "spacing": {"column": 51}, "bounds": "flush", "resolve": {"axis": {"x": "independent", "y": "independent"}},
 "spec": {"width": 90, "height": 58,
  "encoding": {
   "x": {"field": "fitc", "type": "quantitative", "scale": {"type": "log", "domain": [1, 10000], "nice": false}, "axis": {"title": "FITC", "values": [1,10,100,1000,10000], "labelExpr": "datum.value == 10000 ? '10⁴' : ''", "labelFontSize": 5, "labelPadding": 0, "tickSize": 3, "titleFontSize": 7, "titleY": 9, "titleBaseline": "alphabetic", "labelFlush": false, "labelOverlap": false}},
   "y": {"field": "events", "type": "quantitative", "scale": {"domain": [0, 100], "nice": false}, "axis": {"title": "Events", "values": [0,25,50,75,100], "labelExpr": "datum.value == 100 ? '100' : ''", "labelFontSize": 4.5, "labelAngle": -90, "labelPadding": 1, "tickSize": 3, "titleFontSize": 7, "titleX": -4, "labelFlush": false, "labelOverlap": false}}
  },
  "layer": [
   {"transform": [{"filter": "datum.k == 'h'"}], "mark": {"type": "area", "stroke": "#333", "strokeWidth": 0.6}, "encoding": {"color": {"field": "c", "type": "nominal", "scale": {"domain": ["isotype","antibody"], "range": ["#1f3d93","#e3171d"]}, "legend": null}}},
   {"transform": [{"filter": "datum.k == 'e'"}], "mark": {"type": "line", "color": "#111", "strokeWidth": 1.5}, "encoding": {"detail": {"field": "marker"}}},
   {"transform": [{"filter": "datum.k == 'e'"}], "mark": {"type": "tick", "orient": "vertical", "size": 6, "thickness": 1.4, "color": "#111"}},
   {"transform": [{"filter": "datum.k == 'e' && datum.side == 'R'"}], "mark": {"type": "text", "align": "right", "baseline": "alphabetic", "dx": -4, "dy": -2, "fontSize": 7.5, "color": "#555"}, "encoding": {"text": {"field": "marker"}}}
  ]}},
{"transform": [{"filter": "datum.r == 1 && datum.k == 't'"}],
 "facet": {"column": {"field": "p", "type": "nominal", "title": null, "sort": ["MRCC-IgG1","MRCC-CD56"], "header": null}},
 "spacing": {"column": 51}, "bounds": "flush",
 "spec": {"width": 90, "height": 47,
  "encoding": {"x": {"field": "col", "type": "nominal", "scale": {"type": "point", "domain": ["Marker","% Gated"], "range": [20,108], "padding": 0}, "axis": null},
   "y": {"field": "line", "type": "nominal", "scale": {"type": "point", "domain": ["hdr","M1","M2"], "range": [7,32], "padding": 0}, "axis": null},
   "text": {"field": "text"}},
  "layer": [
   {"transform": [{"filter": "datum.col == 'Marker'"}], "mark": {"type": "text", "align": "center", "baseline": "middle", "fontSize": 12.5, "color": "#000"}},
   {"transform": [{"filter": "datum.col != 'Marker' && datum.line == 'hdr'"}], "mark": {"type": "text", "align": "right", "baseline": "middle", "fontSize": 12.5, "color": "#000", "dx": 2}},
   {"transform": [{"filter": "datum.col != 'Marker' && datum.line != 'hdr'"}], "mark": {"type": "text", "align": "right", "baseline": "middle", "fontSize": 12.5, "color": "#000", "dx": -2}}
  ]}},
{"transform": [{"filter": "datum.r == 2 && datum.k != 't'"}],
 "facet": {"column": {"field": "p", "type": "nominal", "title": null, "sort": ["MRCC-IgG2a","MRCC-CD24","MRCC-CD99"]}},
 "spacing": {"column": 60}, "bounds": "flush", "resolve": {"axis": {"x": "independent", "y": "independent"}},
 "spec": {"width": 89, "height": 60,
  "encoding": {
   "x": {"field": "fitc", "type": "quantitative", "scale": {"type": "log", "domain": [1, 10000], "nice": false}, "axis": {"title": "FITC", "values": [1,10,100,1000,10000], "labelExpr": "datum.value == 10000 ? '10⁴' : ''", "labelFontSize": 5, "labelPadding": 0, "tickSize": 3, "titleFontSize": 7, "titleY": 9, "titleBaseline": "alphabetic", "labelFlush": false, "labelOverlap": false}},
   "y": {"field": "events", "type": "quantitative", "scale": {"domain": [0, 100], "nice": false}, "axis": {"title": "Events", "values": [0,25,50,75,100], "labelExpr": "datum.value == 100 ? '100' : ''", "labelFontSize": 4.5, "labelAngle": -90, "labelPadding": 1, "tickSize": 3, "titleFontSize": 7, "titleX": -4, "labelFlush": false, "labelOverlap": false}}
  },
  "layer": [
   {"transform": [{"filter": "datum.k == 'h'"}], "mark": {"type": "area", "stroke": "#333", "strokeWidth": 0.6}, "encoding": {"color": {"field": "c", "type": "nominal", "scale": {"domain": ["isotype","antibody"], "range": ["#1f3d93","#e3171d"]}, "legend": null}}},
   {"transform": [{"filter": "datum.k == 'e'"}], "mark": {"type": "line", "color": "#111", "strokeWidth": 1.5}, "encoding": {"detail": {"field": "marker"}}},
   {"transform": [{"filter": "datum.k == 'e'"}], "mark": {"type": "tick", "orient": "vertical", "size": 6, "thickness": 1.4, "color": "#111"}},
   {"transform": [{"filter": "datum.k == 'e' && datum.side == 'R'"}], "mark": {"type": "text", "align": "right", "baseline": "alphabetic", "dx": -4, "dy": -2, "fontSize": 7.5, "color": "#555"}, "encoding": {"text": {"field": "marker"}}}
  ]}},
{"transform": [{"filter": "datum.r == 2 && datum.k == 't'"}],
 "facet": {"column": {"field": "p", "type": "nominal", "title": null, "sort": ["MRCC-IgG2a","MRCC-CD24","MRCC-CD99"], "header": null}},
 "spacing": {"column": 60}, "bounds": "flush",
 "spec": {"width": 89, "height": 49,
  "encoding": {"x": {"field": "col", "type": "nominal", "scale": {"type": "point", "domain": ["Marker","% Gated"], "range": [20,108], "padding": 0}, "axis": null},
   "y": {"field": "line", "type": "nominal", "scale": {"type": "point", "domain": ["hdr","M1","M2"], "range": [9,34], "padding": 0}, "axis": null},
   "text": {"field": "text"}},
  "layer": [
   {"transform": [{"filter": "datum.col == 'Marker'"}], "mark": {"type": "text", "align": "center", "baseline": "middle", "fontSize": 12.5, "color": "#000"}},
   {"transform": [{"filter": "datum.col != 'Marker' && datum.line == 'hdr'"}], "mark": {"type": "text", "align": "right", "baseline": "middle", "fontSize": 12.5, "color": "#000", "dx": 2}},
   {"transform": [{"filter": "datum.col != 'Marker' && datum.line != 'hdr'"}], "mark": {"type": "text", "align": "right", "baseline": "middle", "fontSize": 12.5, "color": "#000", "dx": -2}}
  ]}},
{"transform": [{"filter": "datum.r == 3 && datum.k != 't'"}],
 "facet": {"column": {"field": "p", "type": "nominal", "title": null, "sort": ["MRCC-IgG1","MRCC-Vimentin","MRCC-E-cadherin","MRCC-N-cadherin"]}},
 "spacing": {"column": 60}, "bounds": "flush", "resolve": {"axis": {"x": "independent", "y": "independent"}},
 "spec": {"width": 91, "height": 59,
  "encoding": {
   "x": {"field": "fitc", "type": "quantitative", "scale": {"type": "log", "domain": [1, 10000], "nice": false}, "axis": {"title": "FITC", "values": [1,10,100,1000,10000], "labelExpr": "datum.value == 10000 ? '10⁴' : ''", "labelFontSize": 5, "labelPadding": 0, "tickSize": 3, "titleFontSize": 7, "titleY": 9, "titleBaseline": "alphabetic", "labelFlush": false, "labelOverlap": false}},
   "y": {"field": "events", "type": "quantitative", "scale": {"domain": [0, 100], "nice": false}, "axis": {"title": "Events", "values": [0,25,50,75,100], "labelExpr": "datum.value == 100 ? '100' : ''", "labelFontSize": 4.5, "labelAngle": -90, "labelPadding": 1, "tickSize": 3, "titleFontSize": 7, "titleX": -4, "labelFlush": false, "labelOverlap": false}}
  },
  "layer": [
   {"transform": [{"filter": "datum.k == 'h'"}], "mark": {"type": "area", "stroke": "#333", "strokeWidth": 0.6}, "encoding": {"color": {"field": "c", "type": "nominal", "scale": {"domain": ["isotype","antibody"], "range": ["#1f3d93","#e3171d"]}, "legend": null}}},
   {"transform": [{"filter": "datum.k == 'e'"}], "mark": {"type": "line", "color": "#111", "strokeWidth": 1.5}, "encoding": {"detail": {"field": "marker"}}},
   {"transform": [{"filter": "datum.k == 'e'"}], "mark": {"type": "tick", "orient": "vertical", "size": 6, "thickness": 1.4, "color": "#111"}},
   {"transform": [{"filter": "datum.k == 'e' && datum.side == 'R'"}], "mark": {"type": "text", "align": "right", "baseline": "alphabetic", "dx": -4, "dy": -2, "fontSize": 7.5, "color": "#555"}, "encoding": {"text": {"field": "marker"}}}
  ]}},
{"transform": [{"filter": "datum.r == 3 && datum.k == 't'"}],
 "facet": {"column": {"field": "p", "type": "nominal", "title": null, "sort": ["MRCC-IgG1","MRCC-Vimentin","MRCC-E-cadherin","MRCC-N-cadherin"], "header": null}},
 "spacing": {"column": 60}, "bounds": "flush",
 "spec": {"width": 91, "height": 44,
  "encoding": {"x": {"field": "col", "type": "nominal", "scale": {"type": "point", "domain": ["Marker","% Gated"], "range": [20,108], "padding": 0}, "axis": null},
   "y": {"field": "line", "type": "nominal", "scale": {"type": "point", "domain": ["hdr","M1","M2"], "range": [9,34], "padding": 0}, "axis": null},
   "text": {"field": "text"}},
  "layer": [
   {"transform": [{"filter": "datum.col == 'Marker'"}], "mark": {"type": "text", "align": "center", "baseline": "middle", "fontSize": 12.5, "color": "#000"}},
   {"transform": [{"filter": "datum.col != 'Marker' && datum.line == 'hdr'"}], "mark": {"type": "text", "align": "right", "baseline": "middle", "fontSize": 12.5, "color": "#000", "dx": 2}},
   {"transform": [{"filter": "datum.col != 'Marker' && datum.line != 'hdr'"}], "mark": {"type": "text", "align": "right", "baseline": "middle", "fontSize": 12.5, "color": "#000", "dx": -2}}
  ]}},
{"spacing": -10, "hconcat": [
 {"transform": [{"filter": "false"}], "width": 1, "height": 1, "mark": "point"},
 {"title": {"text": "b", "dx": 4}, "transform": [{"filter": "datum.r == 4 && datum.k != 't'"}],
 "facet": {"column": {"field": "p", "type": "nominal", "title": null, "sort": ["NRCC-IgG1","NRCC-CD56"]}},
 "spacing": {"column": 60}, "bounds": "flush", "resolve": {"axis": {"x": "independent", "y": "independent"}},
 "spec": {"width": 93, "height": 58,
  "encoding": {
   "x": {"field": "fitc", "type": "quantitative", "scale": {"type": "log", "domain": [1, 10000], "nice": false}, "axis": {"title": "FITC", "values": [1,10,100,1000,10000], "labelExpr": "datum.value == 10000 ? '10⁴' : ''", "labelFontSize": 5, "labelPadding": 0, "tickSize": 3, "titleFontSize": 7, "titleY": 9, "titleBaseline": "alphabetic", "labelFlush": false, "labelOverlap": false}},
   "y": {"field": "events", "type": "quantitative", "scale": {"domain": [0, 100], "nice": false}, "axis": {"title": "Events", "values": [0,25,50,75,100], "labelExpr": "datum.value == 100 ? '100' : ''", "labelFontSize": 4.5, "labelAngle": -90, "labelPadding": 1, "tickSize": 3, "titleFontSize": 7, "titleX": -4, "labelFlush": false, "labelOverlap": false}}
  },
  "layer": [
   {"transform": [{"filter": "datum.k == 'h'"}], "mark": {"type": "area", "stroke": "#333", "strokeWidth": 0.6}, "encoding": {"color": {"field": "c", "type": "nominal", "scale": {"domain": ["isotype","antibody"], "range": ["#1f3d93","#e3171d"]}, "legend": null}}},
   {"transform": [{"filter": "datum.k == 'e'"}], "mark": {"type": "line", "color": "#111", "strokeWidth": 1.5}, "encoding": {"detail": {"field": "marker"}}},
   {"transform": [{"filter": "datum.k == 'e'"}], "mark": {"type": "tick", "orient": "vertical", "size": 6, "thickness": 1.4, "color": "#111"}},
   {"transform": [{"filter": "datum.k == 'e' && datum.side == 'R'"}], "mark": {"type": "text", "align": "right", "baseline": "alphabetic", "dx": -4, "dy": -2, "fontSize": 7.5, "color": "#555"}, "encoding": {"text": {"field": "marker"}}}
  ]}}]},
{"spacing": -2, "hconcat": [
 {"transform": [{"filter": "false"}], "width": 1, "height": 1, "mark": "point"},
 {"transform": [{"filter": "datum.r == 4 && datum.k == 't'"}],
 "facet": {"column": {"field": "p", "type": "nominal", "title": null, "sort": ["NRCC-IgG1","NRCC-CD56"], "header": null}},
 "spacing": {"column": 60}, "bounds": "flush",
 "spec": {"width": 93, "height": 44,
  "encoding": {"x": {"field": "col", "type": "nominal", "scale": {"type": "point", "domain": ["Marker","% Gated"], "range": [20,108], "padding": 0}, "axis": null},
   "y": {"field": "line", "type": "nominal", "scale": {"type": "point", "domain": ["hdr","M1","M2"], "range": [5,30], "padding": 0}, "axis": null},
   "text": {"field": "text"}},
  "layer": [
   {"transform": [{"filter": "datum.col == 'Marker'"}], "mark": {"type": "text", "align": "center", "baseline": "middle", "fontSize": 12.5, "color": "#000"}},
   {"transform": [{"filter": "datum.col != 'Marker' && datum.line == 'hdr'"}], "mark": {"type": "text", "align": "right", "baseline": "middle", "fontSize": 12.5, "color": "#000", "dx": 2}},
   {"transform": [{"filter": "datum.col != 'Marker' && datum.line != 'hdr'"}], "mark": {"type": "text", "align": "right", "baseline": "middle", "fontSize": 12.5, "color": "#000", "dx": -2}}
  ]}}]},
{"spacing": -6, "hconcat": [
 {"transform": [{"filter": "false"}], "width": 1, "height": 1, "mark": "point"},
 {"transform": [{"filter": "datum.r == 5 && datum.k != 't'"}],
 "facet": {"column": {"field": "p", "type": "nominal", "title": null, "sort": ["NRCC-IgG2a","NRCC-CD24","NRCC-CD99"]}},
 "spacing": {"column": 54}, "bounds": "flush", "resolve": {"axis": {"x": "independent", "y": "independent"}},
 "spec": {"width": 94, "height": 57,
  "encoding": {
   "x": {"field": "fitc", "type": "quantitative", "scale": {"type": "log", "domain": [1, 10000], "nice": false}, "axis": {"title": "FITC", "values": [1,10,100,1000,10000], "labelExpr": "datum.value == 10000 ? '10⁴' : ''", "labelFontSize": 5, "labelPadding": 0, "tickSize": 3, "titleFontSize": 7, "titleY": 9, "titleBaseline": "alphabetic", "labelFlush": false, "labelOverlap": false}},
   "y": {"field": "events", "type": "quantitative", "scale": {"domain": [0, 100], "nice": false}, "axis": {"title": "Events", "values": [0,25,50,75,100], "labelExpr": "datum.value == 100 ? '100' : ''", "labelFontSize": 4.5, "labelAngle": -90, "labelPadding": 1, "tickSize": 3, "titleFontSize": 7, "titleX": -4, "labelFlush": false, "labelOverlap": false}}
  },
  "layer": [
   {"transform": [{"filter": "datum.k == 'h'"}], "mark": {"type": "area", "stroke": "#333", "strokeWidth": 0.6}, "encoding": {"color": {"field": "c", "type": "nominal", "scale": {"domain": ["isotype","antibody"], "range": ["#1f3d93","#e3171d"]}, "legend": null}}},
   {"transform": [{"filter": "datum.k == 'e'"}], "mark": {"type": "line", "color": "#111", "strokeWidth": 1.5}, "encoding": {"detail": {"field": "marker"}}},
   {"transform": [{"filter": "datum.k == 'e'"}], "mark": {"type": "tick", "orient": "vertical", "size": 6, "thickness": 1.4, "color": "#111"}},
   {"transform": [{"filter": "datum.k == 'e' && datum.side == 'R'"}], "mark": {"type": "text", "align": "right", "baseline": "alphabetic", "dx": -4, "dy": -2, "fontSize": 7.5, "color": "#555"}, "encoding": {"text": {"field": "marker"}}}
  ]}}]},
{"spacing": 2, "hconcat": [
 {"transform": [{"filter": "false"}], "width": 1, "height": 1, "mark": "point"},
 {"transform": [{"filter": "datum.r == 5 && datum.k == 't'"}],
 "facet": {"column": {"field": "p", "type": "nominal", "title": null, "sort": ["NRCC-IgG2a","NRCC-CD24","NRCC-CD99"], "header": null}},
 "spacing": {"column": 54}, "bounds": "flush",
 "spec": {"width": 94, "height": 46,
  "encoding": {"x": {"field": "col", "type": "nominal", "scale": {"type": "point", "domain": ["Marker","% Gated"], "range": [20,108], "padding": 0}, "axis": null},
   "y": {"field": "line", "type": "nominal", "scale": {"type": "point", "domain": ["hdr","M1","M2"], "range": [6,31], "padding": 0}, "axis": null},
   "text": {"field": "text"}},
  "layer": [
   {"transform": [{"filter": "datum.col == 'Marker'"}], "mark": {"type": "text", "align": "center", "baseline": "middle", "fontSize": 12.5, "color": "#000"}},
   {"transform": [{"filter": "datum.col != 'Marker' && datum.line == 'hdr'"}], "mark": {"type": "text", "align": "right", "baseline": "middle", "fontSize": 12.5, "color": "#000", "dx": 2}},
   {"transform": [{"filter": "datum.col != 'Marker' && datum.line != 'hdr'"}], "mark": {"type": "text", "align": "right", "baseline": "middle", "fontSize": 12.5, "color": "#000", "dx": -2}}
  ]}}]},
{"spacing": -2, "hconcat": [
 {"transform": [{"filter": "false"}], "width": 1, "height": 1, "mark": "point"},
 {"transform": [{"filter": "datum.r == 6 && datum.k != 't'"}],
 "facet": {"column": {"field": "p", "type": "nominal", "title": null, "sort": ["NRCC-IgG1","NRCC-Vimentin","NRCC-E-cadherin","NRCC-N-cadherin"]}},
 "spacing": {"column": 56}, "bounds": "flush", "resolve": {"axis": {"x": "independent", "y": "independent"}},
 "spec": {"width": 91, "height": 58,
  "encoding": {
   "x": {"field": "fitc", "type": "quantitative", "scale": {"type": "log", "domain": [1, 10000], "nice": false}, "axis": {"title": "FITC", "values": [1,10,100,1000,10000], "labelExpr": "datum.value == 10000 ? '10⁴' : ''", "labelFontSize": 5, "labelPadding": 0, "tickSize": 3, "titleFontSize": 7, "titleY": 9, "titleBaseline": "alphabetic", "labelFlush": false, "labelOverlap": false}},
   "y": {"field": "events", "type": "quantitative", "scale": {"domain": [0, 100], "nice": false}, "axis": {"title": "Events", "values": [0,25,50,75,100], "labelExpr": "datum.value == 100 ? '100' : ''", "labelFontSize": 4.5, "labelAngle": -90, "labelPadding": 1, "tickSize": 3, "titleFontSize": 7, "titleX": -4, "labelFlush": false, "labelOverlap": false}}
  },
  "layer": [
   {"transform": [{"filter": "datum.k == 'h'"}], "mark": {"type": "area", "stroke": "#333", "strokeWidth": 0.6}, "encoding": {"color": {"field": "c", "type": "nominal", "scale": {"domain": ["isotype","antibody"], "range": ["#1f3d93","#e3171d"]}, "legend": null}}},
   {"transform": [{"filter": "datum.k == 'e'"}], "mark": {"type": "line", "color": "#111", "strokeWidth": 1.5}, "encoding": {"detail": {"field": "marker"}}},
   {"transform": [{"filter": "datum.k == 'e'"}], "mark": {"type": "tick", "orient": "vertical", "size": 6, "thickness": 1.4, "color": "#111"}},
   {"transform": [{"filter": "datum.k == 'e' && datum.side == 'R'"}], "mark": {"type": "text", "align": "right", "baseline": "alphabetic", "dx": -4, "dy": -2, "fontSize": 7.5, "color": "#555"}, "encoding": {"text": {"field": "marker"}}}
  ]}}]},
{"spacing": 6, "hconcat": [
 {"transform": [{"filter": "false"}], "width": 1, "height": 1, "mark": "point"},
 {"transform": [{"filter": "datum.r == 6 && datum.k == 't'"}],
 "facet": {"column": {"field": "p", "type": "nominal", "title": null, "sort": ["NRCC-IgG1","NRCC-Vimentin","NRCC-E-cadherin","NRCC-N-cadherin"], "header": null}},
 "spacing": {"column": 56}, "bounds": "flush",
 "spec": {"width": 91, "height": 37,
  "encoding": {"x": {"field": "col", "type": "nominal", "scale": {"type": "point", "domain": ["Marker","% Gated"], "range": [20,108], "padding": 0}, "axis": null},
   "y": {"field": "line", "type": "nominal", "scale": {"type": "point", "domain": ["hdr","M1","M2"], "range": [8,33], "padding": 0}, "axis": null},
   "text": {"field": "text"}},
  "layer": [
   {"transform": [{"filter": "datum.col == 'Marker'"}], "mark": {"type": "text", "align": "center", "baseline": "middle", "fontSize": 12.5, "color": "#000"}},
   {"transform": [{"filter": "datum.col != 'Marker' && datum.line == 'hdr'"}], "mark": {"type": "text", "align": "right", "baseline": "middle", "fontSize": 12.5, "color": "#000", "dx": 2}},
   {"transform": [{"filter": "datum.col != 'Marker' && datum.line != 'hdr'"}], "mark": {"type": "text", "align": "right", "baseline": "middle", "fontSize": 12.5, "color": "#000", "dx": -2}}
  ]}}]}
],
"config": {
 "font": "Liberation Sans",
 "view": {"stroke": null},
 "header": {"labelFont": "Liberation Sans", "labelFontSize": 15.5, "labelColor": "#000", "labelAnchor": "start", "labelAlign": "left", "labelPadding": 5},
 "axis": {"grid": false, "domainColor": "#000", "tickColor": "#000", "domainWidth": 1, "tickWidth": 1, "labelColor": "#666", "titleColor": "#333", "titleFontWeight": "normal", "labelFont": "Liberation Sans", "titleFont": "Liberation Sans"},
 "title": {"anchor": "start", "fontSize": 22, "fontWeight": "bold", "font": "Liberation Sans", "offset": 0, "color": "#000"},
 "text": {"font": "Liberation Sans"}
}
}
